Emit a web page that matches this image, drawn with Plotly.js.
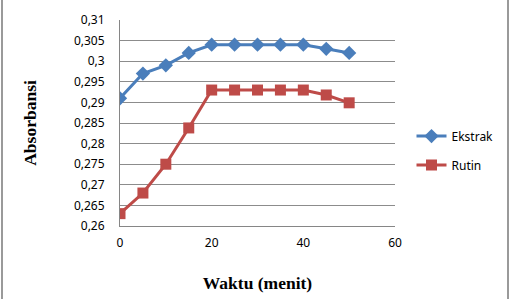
<!DOCTYPE html>
<html>
<head>
<meta charset="utf-8">
<script src="https://cdn.plot.ly/plotly-3.0.1.min.js"></script>
<style>
html,body{margin:0;padding:0;background:#fff;}
#frame{position:absolute;left:1px;top:0;width:508px;height:299px;border-left:2px solid #9a9a9a;border-right:2px solid #9a9a9a;box-sizing:border-box;}
#chart{position:absolute;left:0;top:0;width:511px;height:299px;}
</style>
</head>
<body>
<div id="frame"></div>
<div id="chart"></div>
<script>
const waktu = [0, 5, 10, 15, 20, 25, 30, 35, 40, 45, 50];
const ekstrak = [0.291, 0.297, 0.299, 0.302, 0.304, 0.304, 0.304, 0.304, 0.304, 0.303, 0.302];
const rutin = [0.263, 0.268, 0.275, 0.2838, 0.293, 0.293, 0.293, 0.293, 0.293, 0.2918, 0.2899];
const seriesNames = ["Ekstrak", "Rutin"];
const xTicks = [0, 20, 40, 60];

const traces = [
  {
    x: waktu, y: ekstrak, name: seriesNames[0], type: "scatter", mode: "lines+markers",
    line: {color: "#4a7ebb", width: 3},
    marker: {symbol: "diamond", size: 11, color: "#4a7ebb"},
    legendgroup: "a"
  },
  {
    x: waktu, y: rutin, name: seriesNames[1], type: "scatter", mode: "lines+markers",
    line: {color: "#be4b48", width: 3},
    marker: {symbol: "square", size: 11, color: "#be4b48"},
    legendgroup: "b"
  }
];

const tickFont = {family: "Noto Sans, Liberation Sans, sans-serif", size: 12, color: "#000"};
const titleFont = {family: "Liberation Serif, Times New Roman, serif", size: 17.5, color: "#000", weight: "bold"};

const layout = {
  width: 511, height: 299,
  margin: {l: 120, r: 115.5, t: 20, b: 72.5},
  paper_bgcolor: "rgba(0,0,0,0)",
  plot_bgcolor: "rgba(0,0,0,0)",
  separators: ",.",
  showlegend: true,
  legend: {
    x: 1.06, y: 0.366, xanchor: "left", yanchor: "middle",
    font: {family: "Noto Sans, Liberation Sans, sans-serif", size: 12, color: "#000"},
    tracegroupgap: 10,
    bgcolor: "rgba(0,0,0,0)"
  },
  xaxis: {
    range: [0, 60], tickvals: xTicks, ticktext: xTicks.map(String),
    showgrid: false, zeroline: false,
    showline: true, linecolor: "#868686", linewidth: 1,
    ticks: "outside", ticklen: 6, tickcolor: "rgba(0,0,0,0)",
    tickfont: tickFont,
    title: {text: "Waktu (menit)", font: titleFont}
  },
  xaxis2: {
    overlaying: "x", matches: "x", anchor: "y", side: "bottom",
    tickvals: xTicks, showticklabels: false,
    showgrid: false, zeroline: false, showline: false,
    ticks: "outside", ticklen: 4, tickcolor: "#868686"
  },
  yaxis: {
    range: [0.26, 0.31], dtick: 0.005, tick0: 0.26,
    showgrid: true, gridcolor: "#8c8c8c", gridwidth: 1,
    zeroline: false,
    showline: true, linecolor: "#868686", linewidth: 1,
    ticks: "outside", ticklen: 12, tickcolor: "rgba(0,0,0,0)",
    tickfont: tickFont,
    automargin: true,
    title: {text: "Absorbansi", font: titleFont, standoff: 32}
  },
  yaxis2: {
    overlaying: "y", matches: "y", anchor: "x", side: "left",
    dtick: 0.005, tick0: 0.26, showticklabels: false,
    showgrid: false, zeroline: false, showline: false,
    ticks: "outside", ticklen: 4, tickcolor: "#868686"
  }
};

Plotly.newPlot("chart", traces, layout, {displayModeBar: false, staticPlot: true});
</script>
</body>
</html>
